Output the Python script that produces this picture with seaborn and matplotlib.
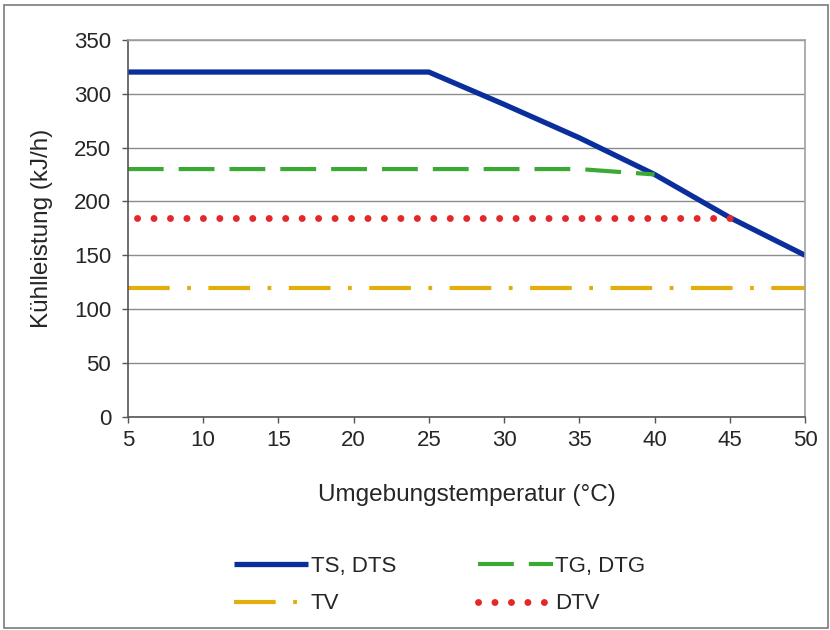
import pandas as pd
import matplotlib.pyplot as plt
import seaborn as sns
from matplotlib.patches import Rectangle

# Daten (Kühlleistung in kJ/h über Umgebungstemperatur)
temp_ts = [5, 10, 15, 20, 25, 30, 35, 40, 45, 50]
leistung_ts = [320, 320, 320, 320, 320, 290, 259, 225, 185, 150]

temp_tg = [5, 10, 15, 20, 25, 30, 35, 40]
leistung_tg = [230, 230, 230, 230, 230, 230, 230, 225]

temp_tv = [5, 10, 15, 20, 25, 30, 35, 40, 45, 50]
leistung_tv = [120, 120, 120, 120, 120, 120, 120, 120, 120, 120]

temp_dtv = [5, 10, 15, 20, 25, 30, 35, 40, 45]
leistung_dtv = [185, 185, 185, 185, 185, 185, 185, 185, 185]

sns.set_style('white')
plt.rcParams['font.family'] = ['Liberation Sans', 'DejaVu Sans']

fig = plt.figure(figsize=(8.3, 6.3), dpi=100)
ax = fig.add_axes([0.154, 0.338, 0.816, 0.599])

# Linien zeichnen
sns.lineplot(x=temp_ts, y=leistung_ts, ax=ax, color='#0a2f9c', linewidth=3.8,
             label='TS, DTS', solid_capstyle='butt')
sns.lineplot(x=temp_tg, y=leistung_tg, ax=ax, color='#3aaa35', linewidth=3.0,
             label='TG, DTG')
sns.lineplot(x=temp_tv, y=leistung_tv, ax=ax, color='#e3ad0b', linewidth=3.0,
             label='TV')
sns.lineplot(x=temp_dtv, y=leistung_dtv, ax=ax, color='#e5262a', linewidth=5.0,
             label='DTV')

lines = ax.get_lines()
lines[1].set_dashes([8.6, 3.6])
lines[1].set_dash_capstyle('butt')
lines[2].set_linestyle((0.0, (10.0, 4.2, 0.9, 4.2)))
lines[3].set_linestyle((1.07, (0.01, 2.36)))
lines[3].set_dash_capstyle('round')

ax.set_xlim(5, 50)
ax.set_ylim(0, 350)
ax.set_xticks(range(5, 51, 5))
ax.set_yticks(range(0, 351, 50))
ax.yaxis.grid(True, color='#8c8c8c', linewidth=1.0)
ax.set_axisbelow(True)

for side in ['top', 'right']:
    ax.spines[side].set_color('#a0a0a0')
for side in ['left', 'bottom']:
    ax.spines[side].set_color('#555555')
for s in ax.spines.values():
    s.set_linewidth(1.2)

ax.tick_params(axis='both', which='major', labelsize=16, length=4, width=1,
               color='#555555', direction='out', left=True, bottom=True)
ax.tick_params(axis='y', pad=8)
ax.tick_params(axis='x', pad=5)
ax.set_xlabel('Umgebungstemperatur (°C)', fontsize=17.5, labelpad=24)
ax.set_ylabel('Kühlleistung (kJ/h)', fontsize=17.5, labelpad=15)

# Legende unten, zwei Spalten (zeilenweise Reihenfolge)
ax.get_legend().remove()
handles, labels = ax.get_legend_handles_labels()
order = [0, 2, 1, 3]
leg = fig.legend([handles[i] for i in order], [labels[i] for i in order],
                 loc='upper left', bbox_to_anchor=(234 / 830, 0.118), ncol=2,
                 frameon=False, fontsize=16, handlelength=3.35, handletextpad=0.1,
                 columnspacing=3.7, labelspacing=0.75, borderpad=0, borderaxespad=0)
leg.get_lines()[3].set_linestyle((0.0, (0.01, 2.36)))

# Rahmen um die ganze Grafik
fig.patches.append(Rectangle((0.005, 0.003), 0.992, 0.989, transform=fig.transFigure,
                             fill=False, edgecolor='#7a7a7a', linewidth=1.2))

fig.savefig('out.png', dpi=100)
